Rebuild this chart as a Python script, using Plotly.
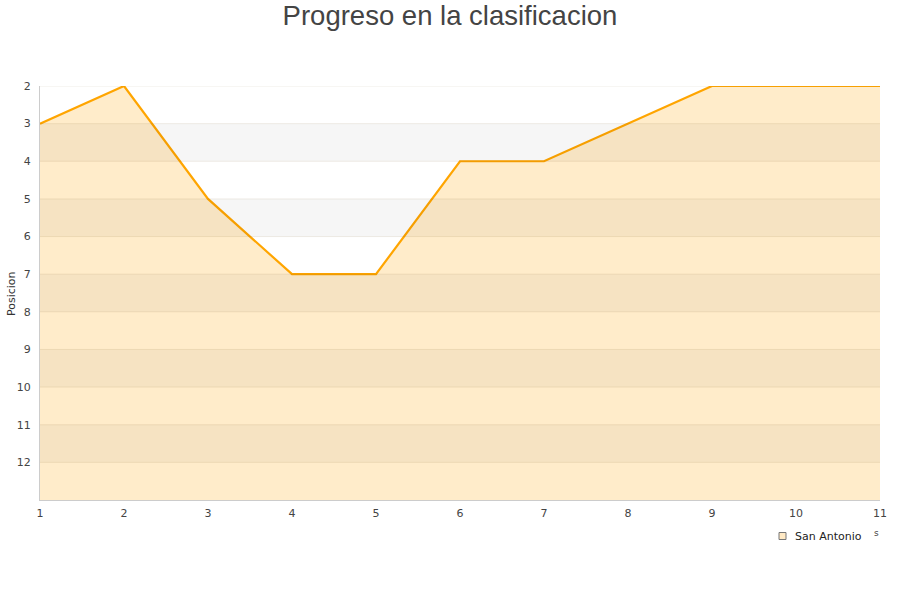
import plotly.graph_objects as go

jornadas = [1, 2, 3, 4, 5, 6, 7, 8, 9, 10, 11]
posicion = [3, 2, 5, 7, 7, 4, 4, 3, 2, 2, 2]
team = "San Antonio"
y_ticks = [2, 3, 4, 5, 6, 7, 8, 9, 10, 11, 12]
y_min, y_max = 2, 13

fig = go.Figure()
# baseline for fill
fig.add_trace(go.Scatter(x=jornadas, y=[y_max] * len(jornadas), mode="lines",
                         line=dict(width=0, color="rgba(0,0,0,0)"), showlegend=False,
                         hoverinfo="skip"))
fig.add_trace(go.Scatter(x=jornadas, y=posicion, mode="lines", fill="tonexty",
                         fillcolor="#FFECCA", line=dict(color="#FFA500", width=2.2),
                         showlegend=False, name=team))

shapes = []
for k in range(3, 12, 2):
    shapes.append(dict(type="rect", xref="paper", yref="y", x0=0, x1=1, y0=k, y1=k + 1,
                       fillcolor="rgba(0,0,0,0.037)", line=dict(width=0), layer="above"))
for k in y_ticks:
    shapes.append(dict(type="line", xref="paper", yref="y", x0=0, x1=1, y0=k, y1=k,
                       line=dict(color="rgba(120,90,40,0.11)", width=1), layer="above"))
# legend swatch
shapes.append(dict(type="rect", xref="paper", yref="paper",
                   x0=(779 - 40) / 840, x1=(786 - 40) / 840,
                   y0=(500 - 532.5) / 414, y1=(500 - 539.5) / 414,
                   fillcolor="#FFE9C4", line=dict(color="#777777", width=1), layer="above"))

fig.update_layout(
    width=900, height=600,
    paper_bgcolor="white", plot_bgcolor="white",
    margin=dict(l=40, r=20, t=86, b=100, autoexpand=False),
    title=dict(text="Progreso en la clasificacion", x=0.5, xanchor="center", y=0.99,
               yanchor="top", font=dict(family="Liberation Sans", size=27.5, color="#444444")),
    font=dict(family="DejaVu Sans", size=11, color="#444444"),
    shapes=shapes,
    showlegend=False,
    xaxis=dict(range=[1, 11], tickvals=jornadas, showgrid=False, zeroline=False,
               showline=True, linecolor="#cccccc", linewidth=1, ticks="outside",
               ticklen=3, tickcolor="rgba(0,0,0,0)",
               tickfont=dict(size=11, color="#444444"), automargin=False),
    yaxis=dict(range=[y_max, y_min], tickvals=y_ticks, showgrid=False, zeroline=False,
               showline=True, linecolor="#cccccc", linewidth=1, ticks="outside",
               ticklen=6, tickcolor="rgba(0,0,0,0)",
               tickfont=dict(size=11, color="#444444"), automargin=False),
)
fig.add_annotation(x=(11 - 40) / 840, y=(500 - 293) / 414, xref="paper", yref="paper",
                   text="Posicion", textangle=-90, showarrow=False,
                   xanchor="center", yanchor="middle",
                   font=dict(size=11, color="#333333"))
fig.add_annotation(x=(793 - 40) / 840, y=(500 - 536) / 414, xref="paper", yref="paper",
                   text=team, showarrow=False, xanchor="left", yanchor="middle",
                   font=dict(size=11, color="#222222"))
fig.add_annotation(x=(881 - 40) / 840, y=(500 - 526) / 414, xref="paper", yref="paper",
                   text="s", showarrow=False, xanchor="right", yanchor="top",
                   font=dict(size=9, color="#444444"))

fig.write_html("out.html", config={"displayModeBar": False},
               post_script="document.body.style.margin='0';")
